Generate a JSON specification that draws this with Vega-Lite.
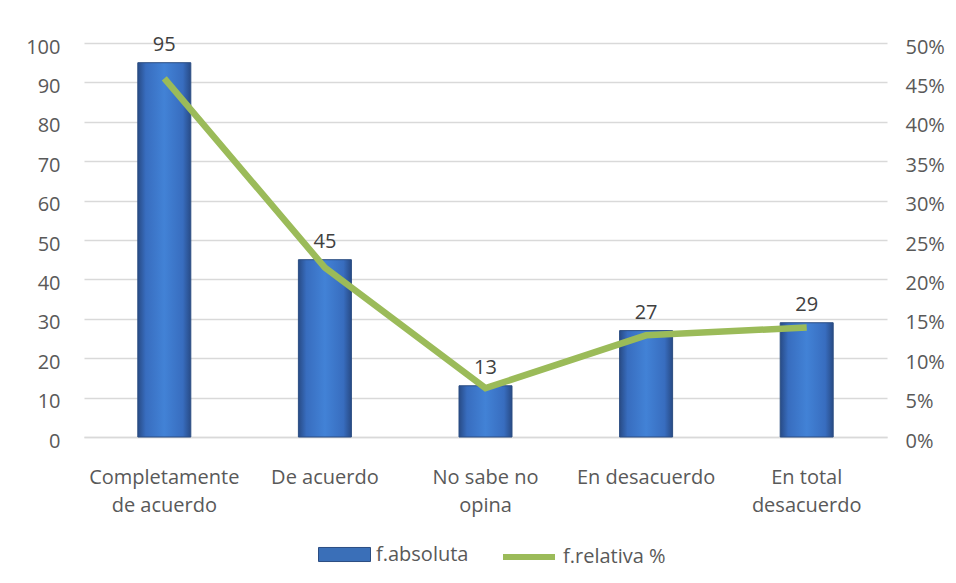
{
  "$schema": "https://vega.github.io/schema/vega-lite/v6.json",
  "width": 803,
  "height": 394,
  "autosize": {"type": "none"},
  "padding": {"left": 84, "top": 43, "right": 69, "bottom": 146},
  "background": "white",
  "config": {
    "font": "Open Sans",
    "view": {"stroke": null},
    "axis": {"labelFont": "Open Sans", "labelFontSize": 20, "labelColor": "#595959", "ticks": false, "title": null, "gridColor": "#d9d9d9", "gridWidth": 1.5, "domain": false},
    "legend": {"labelFont": "Open Sans", "labelFontSize": 20, "labelColor": "#595959", "title": null}
  },
  "data": {
    "values": [
      {"categoria": "Completamente de acuerdo", "fa": 95, "fr": 0.455},
      {"categoria": "De acuerdo", "fa": 45, "fr": 0.215},
      {"categoria": "No sabe no opina", "fa": 13, "fr": 0.062},
      {"categoria": "En desacuerdo", "fa": 27, "fr": 0.129},
      {"categoria": "En total desacuerdo", "fa": 29, "fr": 0.139}
    ]
  },
  "encoding": {
    "x": {
      "field": "categoria",
      "type": "nominal",
      "sort": null,
      "scale": {"paddingInner": 0.67, "paddingOuter": 0.335},
      "axis": {
        "labelAngle": 0,
        "labelPadding": 30,
        "labelLineHeight": 28,
        "labelBaseline": "top",
        "domain": true,
        "domainColor": "#d9d9d9",
        "domainWidth": 1.5,
        "labelExpr": "datum.value == 'Completamente de acuerdo' ? ['Completamente', 'de acuerdo'] : datum.value == 'No sabe no opina' ? ['No sabe no', 'opina'] : datum.value == 'En total desacuerdo' ? ['En total', 'desacuerdo'] : datum.value"
      }
    }
  },
  "layer": [
    {
      "encoding": {
        "y": {
          "field": "fa",
          "type": "quantitative",
          "scale": {"domain": [0, 100], "nice": false},
          "axis": {"orient": "left", "values": [0, 10, 20, 30, 40, 50, 60, 70, 80, 90, 100], "grid": true, "labelPadding": 24, "labelOffset": 4}
        }
      },
      "layer": [
        {
          "mark": {
            "type": "bar",
            "fill": {"gradient": "linear", "x1": 0, "y1": 0, "x2": 1, "y2": 0, "stops": [
              {"offset": 0, "color": "#284b86"},
              {"offset": 0.15, "color": "#386dbf"},
              {"offset": 0.5, "color": "#4282d6"},
              {"offset": 0.85, "color": "#386dbf"},
              {"offset": 1, "color": "#284b86"}
            ]},
            "stroke": "#2b4d82",
            "strokeWidth": 1
          },
          "encoding": {
            "color": {
              "datum": "f.absoluta",
              "scale": {"domain": ["f.absoluta"], "range": ["#3a6fb8"]},
              "legend": {
                "orient": "none",
                "legendX": 234,
                "legendY": 485,
                "symbolType": "M-1,-0.27H1V0.27H-1Z",
                "symbolSize": 2704,
                "symbolStrokeColor": "#2b4d82",
                "symbolStrokeWidth": 1,
                "labelOffset": 5
              }
            }
          }
        },
        {
          "mark": {"type": "text", "baseline": "bottom", "dy": -8, "fontSize": 20, "color": "#404040", "font": "Open Sans"},
          "encoding": {"text": {"field": "fa", "type": "quantitative"}}
        }
      ]
    },
    {
      "mark": {"type": "line", "color": "#9bbb59", "strokeWidth": 6.5, "strokeCap": "butt"},
      "encoding": {
        "y": {
          "field": "fr",
          "type": "quantitative",
          "scale": {"domain": [0, 0.5], "nice": false},
          "axis": {"orient": "right", "format": ".0%", "values": [0, 0.05, 0.1, 0.15, 0.2, 0.25, 0.3, 0.35, 0.4, 0.45, 0.5], "grid": false, "labelPadding": 18, "labelOffset": 4}
        },
        "stroke": {
          "datum": "f.relativa %",
          "scale": {"domain": ["f.relativa %"], "range": ["#9bbb59"]},
          "legend": {
            "orient": "none",
            "legendX": 416,
            "legendY": 485,
            "symbolType": "stroke",
            "symbolSize": 2704,
            "symbolStrokeWidth": 6,
            "labelOffset": 5
          }
        }
      }
    }
  ],
  "resolve": {"scale": {"y": "independent"}, "legend": {"color": "independent", "stroke": "independent"}}
}
